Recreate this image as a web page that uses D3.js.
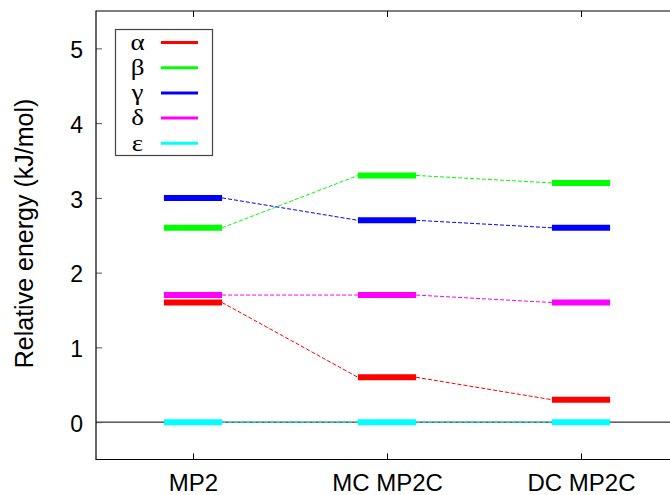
<!DOCTYPE html>
<html>
<head>
<meta charset="utf-8">
<script src="https://cdn.jsdelivr.net/npm/d3@7"></script>
<style>
  html, body { margin: 0; padding: 0; background: #fff; }
  svg { display: block; }
</style>
</head>
<body>
<svg id="chart" width="670" height="495"></svg>
<script>
// ---- data ----
const methods = ["MP2", "MC MP2C", "DC MP2C"];
const seriesNames = ["α", "β", "γ", "δ", "ε"];
const seriesColors = ["#ff0000", "#00ff00", "#0000ff", "#ff00ff", "#00ffff"];
const alphaValues = [1.6, 0.6, 0.3];
const betaValues = [2.6, 3.3, 3.2];
const gammaValues = [3.0, 2.7, 2.6];
const deltaValues = [1.7, 1.7, 1.6];
const epsilonValues = [0.0, 0.0, 0.0];
const yTicks = [0, 1, 2, 3, 4, 5];
const yLabel = "Relative energy (kJ/mol)";

const series = [alphaValues, betaValues, gammaValues, deltaValues, epsilonValues]
  .map((vals, i) => ({ name: seriesNames[i], color: seriesColors[i], values: vals }));

// ---- layout ----
const svg = d3.select("#chart");
const pLeft = 96, pRight = 678, pTop = 11, pBottom = 459.5;
const x = d3.scaleLinear().domain([0.5, 3.5]).range([pLeft, pRight]);
const y = d3.scaleLinear().domain([-0.5, 5.5]).range([pBottom, pTop]);
const halfW = 0.15;
const fontSans = "'Liberation Sans', Arial, Helvetica, sans-serif";

// zero line
svg.append("line")
  .attr("x1", pLeft).attr("x2", 670)
  .attr("y1", y(0)).attr("y2", y(0))
  .attr("stroke", "#000").attr("stroke-width", 1);

// dashed connectors
series.forEach(s => {
  for (let i = 0; i < s.values.length - 1; i++) {
    svg.append("line")
      .attr("x1", x(i + 1 + halfW)).attr("y1", y(s.values[i]))
      .attr("x2", x(i + 2 - halfW)).attr("y2", y(s.values[i + 1]))
      .attr("stroke", s.color).attr("stroke-width", 1)
      .attr("stroke-dasharray", "4,2");
  }
});

// level bars
series.forEach(s => {
  svg.append("g").selectAll("line").data(s.values).join("line")
    .attr("x1", (d, i) => x(i + 1 - halfW))
    .attr("x2", (d, i) => x(i + 1 + halfW))
    .attr("y1", d => y(d)).attr("y2", d => y(d))
    .attr("stroke", s.color).attr("stroke-width", 6);
});

// axes
const axisG = svg.append("g");
const yAxis = d3.axisLeft(y).tickValues(yTicks).tickSize(-6).tickPadding(13).tickFormat(d3.format("d"));
const ya = axisG.append("g").attr("transform", `translate(${pLeft},0)`).call(yAxis);
ya.select(".domain").remove();
ya.selectAll(".tick line").attr("stroke", "#555");
ya.selectAll(".tick text").attr("font-family", fontSans).attr("font-size", 23).attr("fill", "#000")
  .attr("dy", "0.4em");

const xAxis = d3.axisBottom(x).tickValues([1, 2, 3]).tickSize(-6).tickPadding(14)
  .tickFormat((d) => methods[d - 1]);
const xa = axisG.append("g").attr("transform", `translate(0,${pBottom})`).call(xAxis);
xa.select(".domain").remove();
xa.selectAll(".tick line").attr("stroke", "#000");
xa.selectAll(".tick text").attr("font-family", fontSans).attr("font-size", 24).attr("fill", "#000");

const xTop = d3.axisTop(x).tickValues([1, 2, 3]).tickSize(-6).tickFormat("");
const xt = axisG.append("g").attr("transform", `translate(0,${pTop})`).call(xTop);
xt.select(".domain").remove();
xt.selectAll(".tick line").attr("stroke", "#000");

// border
svg.append("path")
  .attr("d", `M${pRight},${pTop}H${pLeft}V${pBottom}H${pRight}`)
  .attr("fill", "none").attr("stroke", "#000").attr("stroke-width", 1.2);

// y label
svg.append("text")
  .attr("transform", `translate(33,233.5) rotate(-90)`)
  .attr("text-anchor", "middle")
  .attr("font-family", fontSans).attr("font-size", 25)
  .text(yLabel);

// legend
const leg = svg.append("g");
leg.append("rect")
  .attr("x", 115.5).attr("y", 29.5).attr("width", 97).attr("height", 126)
  .attr("fill", "#fff").attr("stroke", "#444").attr("stroke-width", 1.2);
series.forEach((s, i) => {
  const ly = 42.5 + i * 25.2;
  leg.append("text")
    .attr("transform", `translate(137.5,${ly}) scale(1.2,1)`)
    .attr("dy", "0.32em")
    .attr("text-anchor", "middle")
    .attr("font-family", "'Liberation Serif', 'Times New Roman', serif")
    .attr("font-size", 22.5)
    .text(s.name);
  leg.append("line")
    .attr("x1", 161).attr("x2", 198)
    .attr("y1", ly).attr("y2", ly)
    .attr("stroke", s.color).attr("stroke-width", 3);
});
</script>
</body>
</html>
